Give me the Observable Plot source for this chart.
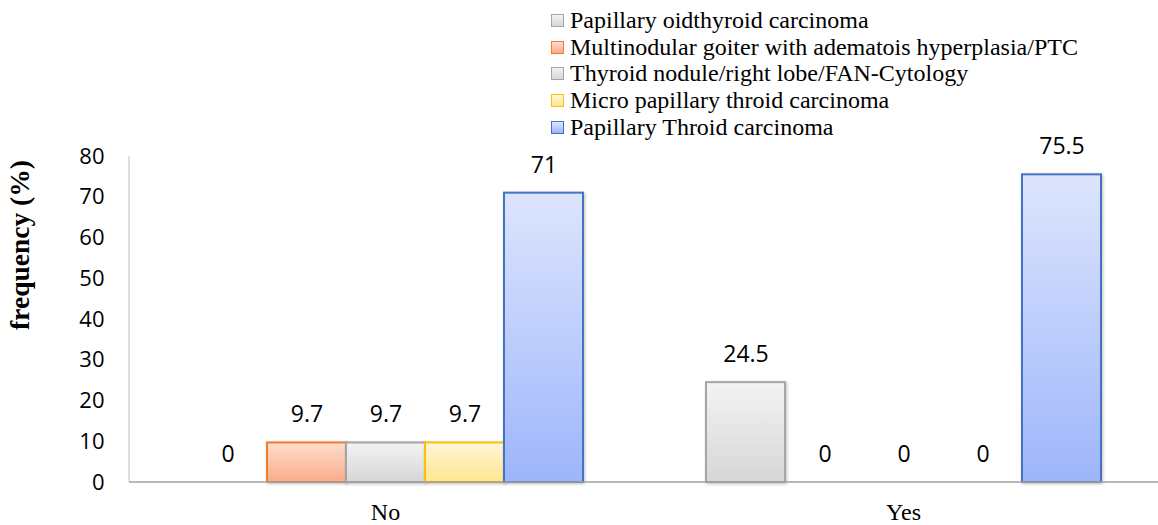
<!DOCTYPE html>
<html>
<head>
<meta charset="utf-8">
<script src="https://cdn.jsdelivr.net/npm/d3@7"></script>
<script src="https://cdn.jsdelivr.net/npm/@observablehq/plot@0.6"></script>
<style>
  html, body { margin: 0; padding: 0; background: #fff; }
  #wrap { position: relative; width: 1158px; height: 525px; overflow: hidden; }
  #legend { position: absolute; left: 551px; top: 7px; font-family: "Liberation Serif", "Times New Roman", serif; font-size: 24px; color: #000; line-height: 26.7px; }
  .item { display: flex; align-items: center; white-space: nowrap; height: 26.7px; }
  .sw { width: 11px; height: 11px; margin-right: 6px; border: 1.5px solid; box-sizing: content-box; }
  #chart { position: absolute; left: 0; top: 140px; }
</style>
</head>
<body>
<div id="wrap">
  <div id="legend"></div>
  <div id="chart"></div>
</div>
<script>
// ---- data ----
const categories = ["No", "Yes"];
const series = [
  "Papillary oidthyroid carcinoma",
  "Multinodular goiter with adematois hyperplasia/PTC",
  "Thyroid nodule/right lobe/FAN-Cytology",
  "Micro papillary throid carcinoma",
  "Papillary Throid carcinoma"
];
const valuesNo  = [0, 9.7, 9.7, 9.7, 71];
const valuesYes = [24.5, 0, 0, 0, 75.5];
const yTicks = [0, 10, 20, 30, 40, 50, 60, 70, 80];
const yLabel = "frequency (%)";

// styles (per series)
const gradTop    = ["#f3f3f3", "#fddccd", "#f3f3f3", "#fff6d8", "#dde5fd"];
const gradBottom = ["#d6d6d6", "#f9ac89", "#d6d6d6", "#ffe68e", "#9db5fb"];
const strokes    = ["#a5a5a5", "#ed7d31", "#a5a5a5", "#ffc000", "#4472c4"];

const data = [];
categories.forEach((c, ci) => {
  const vals = ci === 0 ? valuesNo : valuesYes;
  series.forEach((s, si) => data.push({cat: c, series: s, si, value: vals[si]}));
});

// legend
const leg = document.getElementById("legend");
series.forEach((s, i) => {
  const it = document.createElement("div");
  it.className = "item";
  const sw = document.createElement("span");
  sw.className = "sw";
  sw.style.borderColor = strokes[i];
  sw.style.background = `linear-gradient(${gradTop[i]}, ${gradBottom[i]})`;
  const t = document.createElement("span");
  t.textContent = s;
  it.appendChild(sw); it.appendChild(t);
  leg.appendChild(it);
});

const chart = Plot.plot({
  width: 1158,
  height: 385,
  marginLeft: 129,
  marginRight: 0,
  marginTop: 16,
  marginBottom: 43,
  style: {fontFamily: "'Open Sans', sans-serif", background: "transparent", overflow: "visible"},
  facet: {data, x: "cat"},
  fx: {domain: categories, paddingInner: 0.2317, paddingOuter: 0.109, label: null, tickSize: 0, tickPadding: 20},
  x: {domain: series, padding: 0, axis: null},
  y: {domain: [0, 80], ticks: yTicks, tickSize: 0, tickPadding: 82, label: null},
  color: {type: "identity"},
  marks: [
    Plot.barY(data, {
      x: "series", y: "value",
      fill: d => d.value > 0 ? `url(#grad${d.si})` : "none",
      stroke: d => d.value > 0 ? strokes[d.si] : "none",
      strokeWidth: 2,
      insetLeft: 0, insetRight: 0
    }),
    Plot.text(data, {
      x: "series", y: "value",
      text: d => String(d.value),
      dy: -28, fontSize: 23, fill: "#000"
    })
  ]
});

document.getElementById("chart").appendChild(chart);

// post-render: gradients, axis lines, fonts
const svg = d3.select(chart.tagName.toLowerCase() === "svg" ? chart : chart.querySelector("svg"));
const defs = svg.insert("defs", ":first-child");
series.forEach((s, i) => {
  const g = defs.append("linearGradient").attr("id", `grad${i}`)
    .attr("x1", 0).attr("y1", 0).attr("x2", 0).attr("y2", 1);
  g.append("stop").attr("offset", "0%").attr("stop-color", gradTop[i]);
  g.append("stop").attr("offset", "100%").attr("stop-color", gradBottom[i]);
});
const yScale = chart.scale("y");
const y0 = yScale.apply(0), y80 = yScale.apply(80);
svg.append("line").attr("x1", 129).attr("x2", 1158).attr("y1", y0).attr("y2", y0)
  .attr("stroke", "#a0a0a0").attr("stroke-width", 1.5);
svg.append("line").attr("x1", 129).attr("x2", 129).attr("y1", y80).attr("y2", y0)
  .attr("stroke", "#bfbfbf").attr("stroke-width", 1);
svg.append("text").text(yLabel)
  .attr("transform", "translate(29,105) rotate(-90)")
  .attr("text-anchor", "middle")
  .attr("font-family", "'Liberation Serif', 'Times New Roman', serif")
  .attr("font-weight", "bold").attr("font-size", 27.5).attr("fill", "#000");
// axis fonts
svg.selectAll("g[aria-label^='fx-axis']")
  .attr("font-family", "'Liberation Serif', 'Times New Roman', serif").attr("font-size", 24);
svg.selectAll("g[aria-label^='y-axis']")
  .attr("font-family", "'Open Sans', sans-serif").attr("font-size", 22).attr("fill", "#000");
svg.selectAll("g[aria-label^='bar'] rect").style("filter", "drop-shadow(1px 1px 1.5px rgba(0,0,0,0.25))");
</script>
</body>
</html>
